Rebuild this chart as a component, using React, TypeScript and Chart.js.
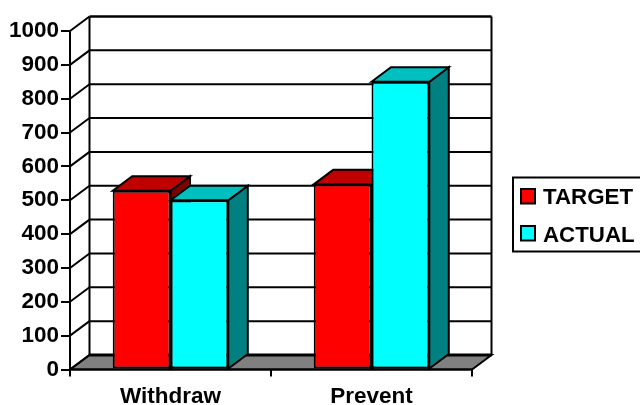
import React, { useEffect, useRef } from "react";
import { Chart, registerables } from "chart.js";

Chart.register(...registerables);

const categories = ["Withdraw", "Prevent"];
const targetValues = [528, 547];
const actualValues = [500, 850];
const seriesNames = ["TARGET", "ACTUAL"];
const yMax = 1000;
const yStep = 100;

const FONT = '"Liberation Sans", Arial, sans-serif';
const DX = 19.5;
const DY = 14.5;
const faceColors = [
  { front: "#FF0000", top: "#BF0000", side: "#800000" },
  { front: "#00FFFF", top: "#00BFBF", side: "#008080" },
];

function poly(ctx: CanvasRenderingContext2D, pts: number[][], fill: string | null, lw = 2) {
  ctx.beginPath();
  pts.forEach((p, i) => (i ? ctx.lineTo(p[0], p[1]) : ctx.moveTo(p[0], p[1])));
  ctx.closePath();
  if (fill) {
    ctx.fillStyle = fill;
    ctx.fill();
  }
  ctx.lineWidth = lw;
  ctx.strokeStyle = "#000";
  ctx.lineJoin = "miter";
  ctx.stroke();
}

function line(ctx: CanvasRenderingContext2D, x1: number, y1: number, x2: number, y2: number, lw: number) {
  ctx.beginPath();
  ctx.moveTo(x1, y1);
  ctx.lineTo(x2, y2);
  ctx.lineWidth = lw;
  ctx.strokeStyle = "#000";
  ctx.stroke();
}

const wallsPlugin = {
  id: "walls3d",
  beforeDatasetsDraw(chart: any) {
    const { ctx, chartArea: a, scales } = chart;
    const y = scales.y;
    const bottom = y.getPixelForValue(0);
    ctx.save();
    // floor
    poly(
      ctx,
      [
        [a.left, bottom],
        [a.left + DX, bottom - DY],
        [a.right + DX, bottom - DY],
        [a.right, bottom],
      ],
      "#808080",
      2
    );
    line(ctx, a.left + DX, bottom - DY, a.right + DX, bottom - DY, 3);
    // back wall grid and side wall diagonals
    y.ticks.forEach((t: any) => {
      const py = y.getPixelForValue(t.value);
      line(ctx, a.left, py, a.left + DX, py - DY, 2);
      if (t.value > 0) line(ctx, a.left + DX, py - DY, a.right + DX, py - DY, t.value === yMax ? 2.5 : 2);
    });
    line(ctx, a.left + DX, y.getPixelForValue(yMax) - DY, a.left + DX, bottom - DY, 2);
    line(ctx, a.right + DX, y.getPixelForValue(yMax) - DY, a.right + DX, bottom - DY, 2);
    // side and top faces of every bar, series by series; the library draws the front faces over them
    chart.getSortedVisibleDatasetMetas().forEach((meta: any) => {
      const colors = faceColors[meta.index];
      meta.data.forEach((bar: any) => {
        const l = bar.x - bar.width / 2;
        const r = bar.x + bar.width / 2;
        poly(ctx, [[r, bar.y], [r + DX, bar.y - DY], [r + DX, bar.base - DY], [r, bar.base]], colors.side);
        poly(ctx, [[l, bar.y], [l + DX, bar.y - DY], [r + DX, bar.y - DY], [r, bar.y]], colors.top);
      });
    });
    ctx.restore();
  },
  afterDraw(chart: any) {
    const { ctx, scales } = chart;
    const a = chart.chartArea;
    ctx.save();
    line(ctx, a.left, scales.y.getPixelForValue(0), a.right, scales.y.getPixelForValue(0), 2);
    // legend
    poly(ctx, [[513, 177.5], [650, 177.5], [650, 251.5], [513, 251.5]], "#fff", 2);
    ctx.font = `bold 22.3px ${FONT}`;
    ctx.textAlign = "left";
    ctx.textBaseline = "alphabetic";
    chart.data.datasets.forEach((d: any, i: number) => {
      const top = 189 + i * 37;
      poly(ctx, [[521, top], [535, top], [535, top + 14.5], [521, top + 14.5]], d.backgroundColor, 2);
      ctx.fillStyle = "#000";
      ctx.fillText(d.label, 543, top + 14.5 + i);
    });
    ctx.restore();
  },
};

export default function App() {
  const ref = useRef<HTMLCanvasElement>(null);
  useEffect(() => {
    document.body.style.margin = "0";
    const chart = new Chart(ref.current!, {
      type: "bar",
      data: {
        labels: categories,
        datasets: [
          { label: seriesNames[0], data: targetValues, backgroundColor: faceColors[0].front },
          { label: seriesNames[1], data: actualValues, backgroundColor: faceColors[1].front },
        ].map((d) => ({
          ...d,
          borderColor: "#000",
          borderWidth: 2,
          borderSkipped: false,
          barPercentage: 1,
          categoryPercentage: 0.575,
        })),
      },
      options: {
        responsive: false,
        animation: false,
        events: [],
        layout: { autoPadding: false, padding: { left: 0, right: 168, top: 31, bottom: 0 } },
        plugins: { legend: { display: false }, tooltip: { enabled: false }, title: { display: false } },
        scales: {
          x: {
            offset: true,
            afterFit(s: any) {
              s.height = 35.5;
            },
            grid: { offset: true, drawOnChartArea: false, drawTicks: true, tickLength: 7, color: "#000", lineWidth: 2 },
            border: { display: false },
            ticks: {
              color: "#000",
              padding: 7,
              maxRotation: 0,
              font: { family: FONT, size: 22.5, weight: "bold" },
            },
          },
          y: {
            min: 0,
            max: yMax,
            afterFit(s: any) {
              s.width = 70;
            },
            grid: { drawOnChartArea: false, drawTicks: true, tickLength: 9, color: "#000", lineWidth: 2 },
            border: { display: true, color: "#000", width: 2 },
            ticks: {
              stepSize: yStep,
              color: "#000",
              padding: 2,
              callback: (v: any) => String(v),
              font: { family: FONT, size: 22.5, weight: "bold" },
            },
          },
        },
      } as any,
      plugins: [wallsPlugin],
    });
    return () => chart.destroy();
  }, []);
  return <canvas ref={ref} width={640} height={405} style={{ display: "block" }} />;
}
